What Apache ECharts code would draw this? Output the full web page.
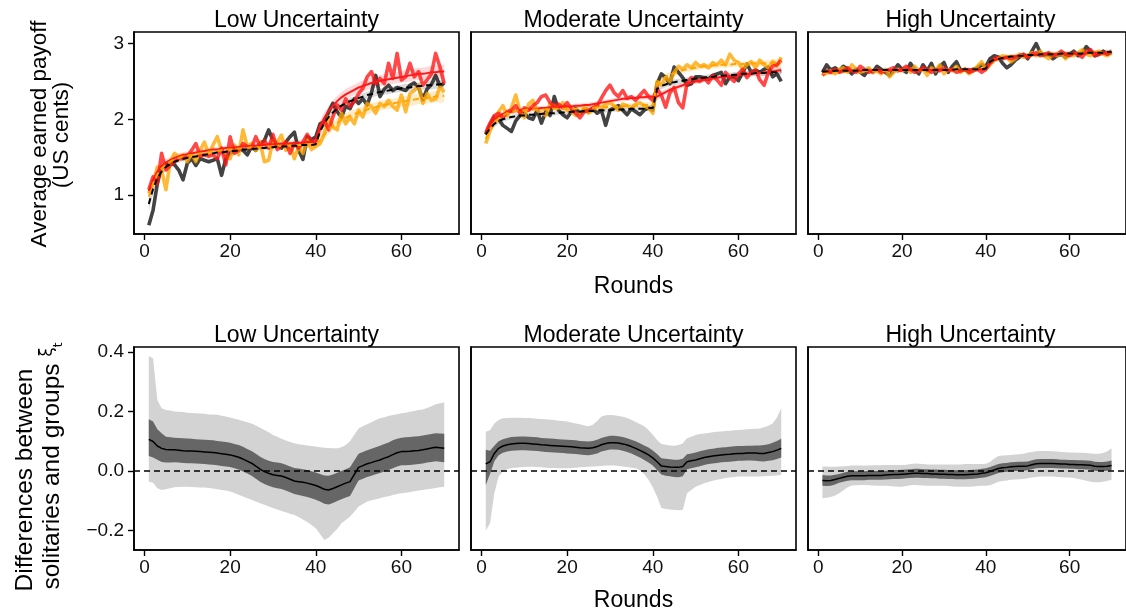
<!DOCTYPE html>
<html>
<head>
<meta charset="utf-8">
<script src="https://cdn.jsdelivr.net/npm/echarts@6/dist/echarts.min.js"></script>
<style>
  html, body { margin: 0; padding: 0; background: #fff; }
  #chart { width: 1126px; height: 616px; }
</style>
</head>
<body>
<div id="chart"></div>
<script>
// Rounds 1..70 of the game
const rounds = Array.from({ length: 70 }, (_, i) => i + 1);
const panelTitles = ['Low Uncertainty', 'Moderate Uncertainty', 'High Uncertainty'];
const roundTicks = [0, 20, 40, 60];
const payoffTicks = [1, 2, 3];
const diffTicks = [-0.2, 0, 0.2, 0.4];

// ---- Average earned payoff per round (US cents) ----
// Low uncertainty: raw averages
const lowBlack = [0.60,0.80,1.15,1.37,1.39,1.42,1.40,1.33,1.20,1.42,
  1.48,1.39,1.48,1.46,1.44,1.46,1.48,1.26,1.48,1.55,
  1.59,1.62,1.59,1.53,1.64,1.59,1.68,1.72,1.86,1.72,
  1.68,1.62,1.70,1.77,1.83,1.59,1.47,1.77,1.73,1.77,
  1.94,1.97,2.10,2.21,2.10,2.03,2.17,2.14,2.27,2.21,
  2.27,2.19,2.35,2.58,2.30,2.40,2.45,2.38,2.42,2.40,
  2.38,2.45,2.48,2.42,2.26,2.40,2.46,2.58,2.44,2.48];
const lowRed = [1.07,1.24,1.15,1.55,1.33,1.39,1.44,1.48,1.48,1.51,
  1.59,1.68,1.51,1.53,1.51,1.53,1.48,1.62,1.40,1.77,
  1.55,1.59,1.68,1.64,1.62,1.77,1.64,1.72,1.62,1.80,
  1.60,1.64,1.70,1.55,1.68,1.62,1.70,1.80,1.72,1.70,
  1.90,1.99,1.86,2.03,2.19,2.12,2.27,2.17,2.23,2.34,
  2.41,2.56,2.63,2.47,2.54,2.47,2.74,2.54,2.87,2.52,
  2.56,2.74,2.56,2.63,2.45,2.52,2.60,2.87,2.69,2.47];
const lowOrange = [1.02,1.15,1.37,1.33,1.07,1.44,1.55,1.51,1.53,1.44,
  1.55,1.44,1.59,1.70,1.53,1.66,1.77,1.59,1.51,1.48,
  1.66,1.53,1.86,1.64,1.68,1.59,1.70,1.44,1.46,1.72,
  1.70,1.79,1.59,1.68,1.48,1.64,1.55,1.73,1.60,1.64,
  1.68,1.81,2.03,1.90,1.86,2.08,1.94,2.03,1.94,2.12,
  2.03,2.21,2.17,2.08,2.21,2.17,2.25,2.17,2.12,2.32,
  2.10,2.34,2.38,2.45,2.21,2.34,2.25,2.27,2.43,2.36];
// Low uncertainty: fitted trends and their interval half-widths
const lowBlackFit = [0.88,1.08,1.22,1.31,1.37,1.41,1.44,1.46,1.48,1.49,
  1.50,1.51,1.52,1.53,1.54,1.55,1.56,1.56,1.57,1.58,
  1.58,1.59,1.60,1.60,1.61,1.61,1.62,1.62,1.63,1.63,
  1.64,1.64,1.64,1.65,1.65,1.65,1.66,1.66,1.66,1.67,
  1.84,1.95,2.03,2.09,2.14,2.18,2.21,2.24,2.26,2.28,
  2.30,2.32,2.33,2.35,2.36,2.37,2.38,2.39,2.40,2.41,
  2.42,2.42,2.43,2.44,2.44,2.45,2.45,2.46,2.46,2.47];
const lowRedFit = [1.05,1.20,1.31,1.38,1.43,1.46,1.49,1.51,1.53,1.54,
  1.55,1.56,1.57,1.58,1.59,1.60,1.60,1.61,1.62,1.62,
  1.63,1.63,1.64,1.64,1.65,1.65,1.66,1.66,1.67,1.67,
  1.67,1.68,1.68,1.68,1.69,1.69,1.69,1.70,1.70,1.70,
  1.90,2.02,2.11,2.18,2.24,2.29,2.33,2.36,2.39,2.42,
  2.44,2.46,2.48,2.49,2.51,2.52,2.53,2.54,2.55,2.56,
  2.57,2.58,2.59,2.60,2.60,2.61,2.62,2.62,2.63,2.63];
const lowOrangeFit = [0.98,1.15,1.27,1.35,1.40,1.44,1.47,1.49,1.51,1.52,
  1.53,1.54,1.55,1.56,1.57,1.58,1.58,1.59,1.60,1.60,
  1.61,1.61,1.62,1.62,1.63,1.63,1.63,1.64,1.64,1.64,
  1.65,1.65,1.65,1.65,1.66,1.66,1.66,1.66,1.67,1.67,
  1.72,1.80,1.86,1.91,1.95,1.99,2.02,2.05,2.07,2.09,
  2.11,2.13,2.15,2.16,2.18,2.19,2.20,2.21,2.22,2.23,
  2.24,2.25,2.26,2.27,2.28,2.28,2.29,2.30,2.30,2.31];
const lowHwBlack = [0.09,0.07,0.06,0.05,0.045,0.04,0.04,0.035,0.035,0.035,
  0.03,0.03,0.03,0.03,0.03,0.03,0.03,0.03,0.03,0.03,
  0.03,0.03,0.03,0.03,0.03,0.03,0.03,0.03,0.03,0.03,
  0.03,0.03,0.03,0.03,0.03,0.03,0.03,0.035,0.035,0.04,
  0.07,0.06,0.055,0.05,0.05,0.045,0.045,0.045,0.045,0.045,
  0.045,0.045,0.045,0.045,0.045,0.045,0.045,0.045,0.045,0.045,
  0.05,0.05,0.05,0.05,0.05,0.05,0.055,0.055,0.06,0.06];
const lowHwRed = [0.09,0.07,0.06,0.05,0.045,0.04,0.04,0.04,0.035,0.035,
  0.035,0.035,0.035,0.035,0.035,0.035,0.035,0.035,0.035,0.035,
  0.035,0.035,0.035,0.035,0.035,0.035,0.035,0.035,0.035,0.035,
  0.035,0.035,0.035,0.035,0.035,0.035,0.035,0.04,0.04,0.045,
  0.08,0.075,0.07,0.07,0.07,0.07,0.07,0.07,0.07,0.07,
  0.075,0.075,0.075,0.075,0.075,0.075,0.075,0.075,0.075,0.075,
  0.08,0.08,0.08,0.08,0.08,0.085,0.085,0.09,0.09,0.095];
const lowHwOrange = [0.09,0.07,0.06,0.05,0.045,0.04,0.04,0.04,0.035,0.035,
  0.035,0.035,0.035,0.035,0.035,0.035,0.035,0.035,0.035,0.035,
  0.035,0.035,0.035,0.035,0.035,0.035,0.035,0.035,0.035,0.035,
  0.035,0.035,0.035,0.035,0.035,0.035,0.035,0.04,0.04,0.045,
  0.07,0.065,0.06,0.06,0.06,0.06,0.06,0.06,0.06,0.06,
  0.065,0.065,0.065,0.065,0.065,0.065,0.065,0.065,0.065,0.065,
  0.07,0.07,0.07,0.07,0.07,0.07,0.075,0.075,0.08,0.08];

// Moderate uncertainty
const modBlack = [1.80,1.92,2.03,2.00,1.92,1.88,1.84,1.98,2.05,2.08,
  2.02,2.00,2.12,1.95,2.10,2.05,2.30,2.12,2.06,2.02,
  2.10,2.14,2.08,2.12,2.10,2.14,2.08,2.12,1.92,2.12,
  2.15,2.18,2.12,2.06,2.14,2.10,2.06,2.12,2.15,2.12,
  2.47,2.60,2.55,2.47,2.69,2.62,2.55,2.45,2.47,2.56,
  2.56,2.55,2.53,2.58,2.60,2.62,2.47,2.56,2.56,2.51,
  2.62,2.73,2.62,2.65,2.62,2.66,2.69,2.56,2.60,2.50];
const modRed = [1.82,1.95,2.05,2.08,2.02,2.10,2.12,2.18,2.08,2.15,
  2.12,2.18,2.22,2.30,2.32,2.22,2.18,2.20,2.15,2.22,
  2.14,2.08,2.02,2.10,2.12,2.15,2.18,2.28,2.38,2.45,
  2.35,2.30,2.38,2.28,2.30,2.25,2.32,2.38,2.30,2.25,
  2.40,2.32,2.16,2.35,2.42,2.22,2.15,2.48,2.55,2.52,
  2.50,2.55,2.48,2.58,2.52,2.45,2.62,2.55,2.50,2.60,
  2.66,2.55,2.62,2.65,2.52,2.45,2.62,2.70,2.72,2.78];
const modOrange = [1.68,1.85,1.98,2.10,2.18,2.05,2.15,2.32,2.10,2.02,
  2.20,2.25,2.12,2.08,2.05,2.20,2.18,2.15,2.22,2.12,
  2.10,2.05,2.08,2.15,2.08,2.12,2.18,2.15,2.20,2.22,
  2.18,2.12,2.20,2.18,2.15,2.20,2.22,2.18,2.15,2.08,
  2.50,2.45,2.55,2.50,2.62,2.70,2.66,2.72,2.68,2.75,
  2.70,2.72,2.68,2.75,2.72,2.78,2.72,2.86,2.78,2.75,
  2.66,2.72,2.76,2.68,2.78,2.72,2.68,2.76,2.70,2.82];
const modBlackFit = [1.80,1.88,1.94,1.98,2.00,2.02,2.03,2.04,2.05,2.05,
  2.06,2.06,2.07,2.07,2.08,2.08,2.08,2.09,2.09,2.09,
  2.10,2.10,2.10,2.11,2.11,2.11,2.12,2.12,2.12,2.12,
  2.13,2.13,2.13,2.13,2.14,2.14,2.14,2.14,2.15,2.15,
  2.40,2.44,2.46,2.48,2.49,2.50,2.51,2.52,2.53,2.54,
  2.54,2.55,2.56,2.56,2.57,2.57,2.58,2.58,2.59,2.59,
  2.60,2.60,2.60,2.61,2.61,2.61,2.62,2.62,2.62,2.63];
const modRedFit = [1.84,1.93,2.00,2.04,2.07,2.09,2.10,2.11,2.12,2.13,
  2.13,2.14,2.14,2.15,2.15,2.16,2.16,2.16,2.17,2.17,
  2.17,2.18,2.18,2.19,2.19,2.20,2.21,2.22,2.23,2.24,
  2.25,2.26,2.27,2.27,2.28,2.28,2.29,2.29,2.30,2.30,
  2.30,2.33,2.36,2.39,2.41,2.43,2.45,2.47,2.48,2.50,
  2.51,2.52,2.53,2.54,2.55,2.56,2.56,2.57,2.58,2.58,
  2.59,2.60,2.60,2.61,2.61,2.62,2.62,2.63,2.64,2.65];
const modOrangeFit = [1.74,1.86,1.95,2.01,2.05,2.08,2.10,2.11,2.12,2.12,
  2.13,2.13,2.13,2.13,2.13,2.14,2.14,2.14,2.14,2.14,
  2.14,2.14,2.15,2.15,2.15,2.15,2.16,2.16,2.16,2.17,
  2.17,2.17,2.17,2.18,2.18,2.18,2.18,2.19,2.19,2.19,
  2.47,2.52,2.56,2.59,2.61,2.63,2.65,2.66,2.67,2.68,
  2.69,2.70,2.70,2.71,2.71,2.72,2.72,2.72,2.73,2.73,
  2.73,2.73,2.74,2.74,2.74,2.74,2.74,2.75,2.75,2.75];
const modHw = [0.06,0.05,0.045,0.04,0.035,0.035,0.03,0.03,0.03,0.03,
  0.03,0.03,0.03,0.03,0.03,0.03,0.03,0.03,0.03,0.03,
  0.03,0.03,0.03,0.03,0.03,0.03,0.03,0.03,0.03,0.03,
  0.03,0.03,0.03,0.03,0.03,0.03,0.03,0.035,0.035,0.04,
  0.05,0.045,0.04,0.04,0.04,0.035,0.035,0.035,0.035,0.035,
  0.035,0.035,0.035,0.035,0.035,0.035,0.035,0.035,0.035,0.035,
  0.035,0.035,0.035,0.035,0.04,0.04,0.04,0.045,0.045,0.05];

// High uncertainty
const highBlack = [2.62,2.72,2.65,2.68,2.64,2.70,2.66,2.60,2.66,2.62,
  2.58,2.66,2.62,2.70,2.66,2.62,2.58,2.64,2.72,2.66,
  2.62,2.74,2.66,2.60,2.72,2.64,2.74,2.60,2.70,2.75,
  2.62,2.70,2.76,2.64,2.66,2.62,2.66,2.68,2.72,2.70,
  2.80,2.84,2.82,2.74,2.68,2.72,2.78,2.82,2.85,2.80,
  2.90,3.00,2.88,2.84,2.86,2.80,2.84,2.86,2.82,2.86,
  2.90,2.84,2.88,2.96,2.90,2.84,2.86,2.90,2.86,2.88];
const highRed = [2.58,2.64,2.62,2.66,2.62,2.64,2.68,2.64,2.62,2.70,
  2.66,2.62,2.64,2.66,2.62,2.64,2.66,2.68,2.64,2.66,
  2.70,2.66,2.62,2.64,2.68,2.66,2.62,2.66,2.64,2.68,
  2.64,2.66,2.62,2.64,2.66,2.62,2.64,2.66,2.62,2.66,
  2.74,2.80,2.82,2.80,2.82,2.80,2.82,2.84,2.86,2.82,
  2.86,2.88,2.84,2.86,2.88,2.84,2.86,2.90,2.86,2.84,
  2.88,2.86,2.82,2.90,2.92,2.84,2.86,2.88,2.86,2.90];
const highOrange = [2.60,2.62,2.64,2.60,2.66,2.68,2.62,2.72,2.66,2.62,
  2.64,2.68,2.62,2.64,2.60,2.66,2.56,2.62,2.66,2.64,
  2.68,2.62,2.70,2.64,2.66,2.58,2.68,2.64,2.72,2.60,
  2.66,2.64,2.70,2.62,2.66,2.60,2.64,2.70,2.76,2.66,
  2.72,2.78,2.80,2.84,2.82,2.76,2.80,2.86,2.82,2.84,
  2.88,2.84,2.90,2.84,2.80,2.86,2.84,2.88,2.80,2.86,
  2.84,2.88,2.92,2.86,2.84,2.88,2.90,2.86,2.84,2.88];
const highBlackFit = [2.63,2.63,2.63,2.64,2.64,2.64,2.64,2.64,2.64,2.65,
  2.65,2.65,2.65,2.65,2.65,2.65,2.65,2.65,2.65,2.65,
  2.65,2.65,2.65,2.65,2.65,2.65,2.65,2.65,2.65,2.65,
  2.65,2.65,2.66,2.66,2.66,2.66,2.66,2.66,2.66,2.67,
  2.76,2.79,2.80,2.81,2.82,2.83,2.83,2.84,2.84,2.85,
  2.85,2.85,2.86,2.86,2.86,2.86,2.86,2.87,2.87,2.87,
  2.87,2.87,2.87,2.88,2.88,2.88,2.88,2.88,2.89,2.89];
const highRedFit = [2.61,2.62,2.62,2.63,2.63,2.63,2.64,2.64,2.64,2.64,
  2.64,2.64,2.64,2.64,2.64,2.64,2.64,2.64,2.64,2.64,
  2.65,2.65,2.65,2.65,2.65,2.65,2.65,2.65,2.65,2.65,
  2.65,2.65,2.65,2.65,2.65,2.66,2.66,2.66,2.66,2.66,
  2.75,2.78,2.80,2.81,2.82,2.83,2.83,2.84,2.84,2.84,
  2.85,2.85,2.85,2.86,2.86,2.86,2.86,2.86,2.87,2.87,
  2.87,2.87,2.87,2.87,2.88,2.88,2.88,2.88,2.88,2.89];
const highOrangeFit = [2.60,2.61,2.62,2.62,2.63,2.63,2.63,2.64,2.64,2.64,
  2.64,2.64,2.64,2.64,2.64,2.64,2.64,2.64,2.64,2.64,
  2.65,2.65,2.65,2.65,2.65,2.65,2.65,2.65,2.65,2.65,
  2.65,2.65,2.65,2.66,2.66,2.66,2.66,2.67,2.67,2.67,
  2.76,2.79,2.81,2.82,2.83,2.83,2.84,2.84,2.85,2.85,
  2.85,2.86,2.86,2.86,2.86,2.87,2.87,2.87,2.87,2.87,
  2.87,2.88,2.88,2.88,2.88,2.88,2.88,2.89,2.89,2.89];
const highHw = [0.04,0.035,0.03,0.03,0.025,0.025,0.02,0.02,0.02,0.02,
  0.02,0.02,0.02,0.02,0.02,0.02,0.02,0.02,0.02,0.02,
  0.02,0.02,0.02,0.02,0.02,0.02,0.02,0.02,0.02,0.02,
  0.02,0.02,0.02,0.02,0.02,0.02,0.02,0.02,0.025,0.025,
  0.03,0.03,0.025,0.025,0.025,0.025,0.025,0.025,0.025,0.025,
  0.025,0.025,0.025,0.025,0.025,0.025,0.025,0.025,0.025,0.025,
  0.025,0.025,0.025,0.025,0.025,0.025,0.025,0.03,0.03,0.035];

// ---- Differences between solitaries and groups (xi_t) ----
const lowDiff = [0.106,0.099,0.084,0.076,0.072,0.071,0.071,0.070,0.068,0.067,
  0.067,0.066,0.065,0.064,0.063,0.062,0.060,0.058,0.056,0.054,
  0.050,0.046,0.040,0.033,0.026,0.016,0.006,-0.002,-0.008,-0.013,
  -0.015,-0.017,-0.022,-0.028,-0.034,-0.036,-0.038,-0.041,-0.045,-0.049,
  -0.055,-0.062,-0.064,-0.059,-0.053,-0.047,-0.041,-0.036,-0.012,0.012,
  0.018,0.024,0.028,0.033,0.037,0.043,0.048,0.055,0.061,0.065,
  0.065,0.066,0.068,0.069,0.071,0.074,0.077,0.080,0.078,0.076];
const lowInnerUp = [0.174,0.166,0.140,0.127,0.115,0.113,0.112,0.111,0.110,0.109,
  0.108,0.107,0.106,0.105,0.104,0.103,0.101,0.099,0.097,0.095,
  0.091,0.087,0.081,0.074,0.067,0.058,0.048,0.040,0.034,0.030,
  0.028,0.026,0.021,0.015,0.010,0.008,0.006,0.003,-0.001,-0.005,
  -0.010,-0.015,-0.016,-0.012,-0.006,0.000,0.006,0.012,0.035,0.058,
  0.064,0.070,0.075,0.080,0.085,0.091,0.096,0.103,0.108,0.112,
  0.113,0.114,0.116,0.117,0.119,0.122,0.124,0.127,0.126,0.125];
const lowInnerLo = [0.050,0.045,0.038,0.030,0.028,0.028,0.029,0.028,0.027,0.026,
  0.026,0.025,0.024,0.023,0.022,0.021,0.019,0.017,0.015,0.013,
  0.009,0.005,-0.002,-0.009,-0.016,-0.026,-0.036,-0.044,-0.050,-0.055,
  -0.058,-0.061,-0.066,-0.072,-0.078,-0.081,-0.084,-0.088,-0.092,-0.097,
  -0.103,-0.110,-0.113,-0.108,-0.101,-0.095,-0.089,-0.084,-0.058,-0.032,
  -0.026,-0.020,-0.016,-0.011,-0.007,-0.002,0.003,0.009,0.015,0.019,
  0.019,0.020,0.022,0.023,0.025,0.028,0.030,0.033,0.031,0.029];
const lowOuterUp = [0.387,0.379,0.239,0.211,0.205,0.203,0.200,0.199,0.198,0.196,
  0.195,0.194,0.193,0.192,0.190,0.190,0.189,0.186,0.183,0.180,
  0.176,0.172,0.168,0.164,0.160,0.153,0.145,0.138,0.130,0.121,
  0.115,0.108,0.102,0.097,0.093,0.090,0.088,0.086,0.084,0.082,
  0.080,0.078,0.077,0.076,0.076,0.080,0.087,0.100,0.122,0.143,
  0.150,0.157,0.164,0.171,0.177,0.181,0.185,0.188,0.191,0.194,
  0.196,0.199,0.202,0.205,0.207,0.212,0.218,0.224,0.228,0.230];
const lowOuterLo = [-0.036,-0.040,-0.058,-0.064,-0.062,-0.058,-0.055,-0.054,-0.053,-0.053,
  -0.054,-0.055,-0.056,-0.056,-0.057,-0.059,-0.062,-0.064,-0.066,-0.069,
  -0.074,-0.080,-0.086,-0.092,-0.097,-0.103,-0.109,-0.114,-0.120,-0.125,
  -0.130,-0.135,-0.139,-0.144,-0.148,-0.155,-0.163,-0.172,-0.182,-0.193,
  -0.212,-0.232,-0.225,-0.210,-0.195,-0.176,-0.165,-0.153,-0.137,-0.120,
  -0.111,-0.103,-0.099,-0.095,-0.092,-0.088,-0.085,-0.081,-0.078,-0.075,
  -0.073,-0.071,-0.068,-0.066,-0.064,-0.062,-0.060,-0.057,-0.055,-0.053];

const modDiff = [0.024,0.031,0.059,0.076,0.084,0.088,0.091,0.092,0.093,0.093,
  0.092,0.091,0.090,0.088,0.087,0.086,0.085,0.084,0.083,0.082,
  0.081,0.080,0.078,0.077,0.076,0.078,0.082,0.088,0.092,0.095,
  0.095,0.094,0.091,0.087,0.082,0.076,0.069,0.062,0.054,0.044,
  0.031,0.017,0.015,0.013,0.012,0.012,0.015,0.031,0.034,0.037,
  0.041,0.045,0.048,0.050,0.052,0.054,0.055,0.056,0.058,0.059,
  0.059,0.060,0.060,0.060,0.059,0.059,0.062,0.065,0.070,0.076];
const modInnerUp = [0.071,0.068,0.085,0.100,0.107,0.111,0.114,0.115,0.116,0.116,
  0.115,0.114,0.113,0.111,0.110,0.109,0.108,0.107,0.106,0.105,
  0.104,0.103,0.101,0.100,0.099,0.101,0.105,0.111,0.115,0.118,
  0.118,0.117,0.114,0.110,0.105,0.100,0.093,0.086,0.079,0.069,
  0.057,0.043,0.041,0.039,0.038,0.038,0.041,0.056,0.059,0.062,
  0.066,0.070,0.073,0.075,0.077,0.079,0.080,0.081,0.083,0.084,
  0.084,0.085,0.085,0.086,0.086,0.087,0.090,0.095,0.101,0.108];
const modInnerLo = [-0.047,-0.010,0.033,0.053,0.061,0.065,0.068,0.069,0.070,0.070,
  0.069,0.068,0.067,0.065,0.064,0.063,0.062,0.061,0.060,0.059,
  0.058,0.057,0.055,0.054,0.053,0.055,0.059,0.065,0.069,0.072,
  0.072,0.071,0.068,0.064,0.059,0.052,0.045,0.037,0.028,0.018,
  0.003,-0.012,-0.016,-0.018,-0.020,-0.021,-0.018,0.006,0.009,0.012,
  0.016,0.020,0.023,0.025,0.027,0.029,0.030,0.031,0.033,0.034,
  0.034,0.035,0.035,0.034,0.033,0.032,0.034,0.036,0.040,0.045];
const modOuterUp = [0.132,0.137,0.160,0.171,0.177,0.178,0.179,0.179,0.179,0.178,
  0.178,0.177,0.176,0.175,0.174,0.172,0.171,0.169,0.168,0.166,
  0.163,0.160,0.157,0.153,0.150,0.155,0.168,0.183,0.187,0.188,
  0.187,0.185,0.182,0.178,0.172,0.165,0.158,0.150,0.138,0.122,
  0.104,0.091,0.088,0.086,0.085,0.087,0.092,0.110,0.115,0.121,
  0.124,0.126,0.128,0.130,0.132,0.133,0.134,0.135,0.137,0.138,
  0.139,0.140,0.141,0.142,0.143,0.147,0.152,0.160,0.180,0.211];
const modOuterLo = [-0.200,-0.176,-0.075,-0.019,-0.002,0.006,0.010,0.011,0.012,0.013,
  0.014,0.014,0.013,0.012,0.011,0.010,0.010,0.009,0.009,0.009,
  0.010,0.011,0.012,0.013,0.014,0.015,0.016,0.017,0.018,0.018,
  0.018,0.017,0.015,0.013,0.011,0.009,0.002,-0.010,-0.030,-0.055,
  -0.086,-0.125,-0.128,-0.130,-0.131,-0.132,-0.131,-0.075,-0.064,-0.053,
  -0.047,-0.041,-0.037,-0.033,-0.030,-0.027,-0.024,-0.022,-0.020,-0.019,
  -0.019,-0.019,-0.019,-0.019,-0.019,-0.018,-0.017,-0.016,-0.015,-0.013];

const highDiff = [-0.032,-0.033,-0.032,-0.029,-0.025,-0.021,-0.018,-0.016,-0.016,-0.016,
  -0.016,-0.015,-0.015,-0.015,-0.015,-0.014,-0.013,-0.012,-0.012,-0.011,
  -0.010,-0.009,-0.008,-0.008,-0.009,-0.009,-0.010,-0.010,-0.011,-0.011,
  -0.012,-0.012,-0.013,-0.013,-0.013,-0.012,-0.011,-0.010,-0.008,-0.006,
  -0.002,0.003,0.008,0.011,0.012,0.014,0.015,0.016,0.016,0.017,
  0.021,0.024,0.025,0.025,0.025,0.025,0.024,0.023,0.023,0.022,
  0.022,0.021,0.021,0.020,0.019,0.016,0.015,0.015,0.016,0.018];
const highInnerUp = [-0.014,-0.015,-0.015,-0.013,-0.010,-0.006,-0.003,-0.001,-0.001,-0.001,
  -0.001,0.000,0.000,0.000,0.000,0.001,0.002,0.003,0.003,0.004,
  0.005,0.006,0.007,0.007,0.006,0.006,0.005,0.005,0.004,0.004,
  0.003,0.003,0.002,0.002,0.002,0.003,0.004,0.005,0.007,0.009,
  0.013,0.018,0.023,0.026,0.027,0.029,0.030,0.031,0.031,0.032,
  0.036,0.039,0.040,0.040,0.040,0.040,0.039,0.038,0.038,0.037,
  0.037,0.036,0.036,0.035,0.034,0.031,0.030,0.030,0.032,0.035];
const highInnerLo = [-0.050,-0.051,-0.050,-0.046,-0.040,-0.036,-0.033,-0.031,-0.031,-0.031,
  -0.031,-0.030,-0.030,-0.030,-0.030,-0.029,-0.028,-0.027,-0.027,-0.026,
  -0.025,-0.024,-0.023,-0.023,-0.024,-0.024,-0.025,-0.025,-0.026,-0.026,
  -0.027,-0.027,-0.028,-0.028,-0.028,-0.027,-0.026,-0.025,-0.023,-0.021,
  -0.017,-0.012,-0.007,-0.004,-0.003,-0.001,0.000,0.001,0.001,0.002,
  0.006,0.009,0.010,0.010,0.010,0.010,0.009,0.008,0.008,0.007,
  0.007,0.006,0.006,0.005,0.004,0.001,0.000,0.000,0.001,0.003];
const highOuterUp = [0.015,0.015,0.014,0.014,0.015,0.016,0.017,0.018,0.018,0.018,
  0.018,0.018,0.019,0.019,0.019,0.020,0.020,0.020,0.020,0.020,
  0.021,0.023,0.025,0.024,0.023,0.022,0.022,0.022,0.022,0.022,
  0.022,0.022,0.022,0.022,0.023,0.023,0.023,0.023,0.023,0.024,
  0.030,0.042,0.050,0.052,0.053,0.054,0.055,0.056,0.058,0.062,
  0.064,0.066,0.067,0.067,0.067,0.066,0.065,0.064,0.063,0.062,
  0.062,0.061,0.061,0.060,0.059,0.058,0.058,0.060,0.066,0.076];
const highOuterLo = [-0.092,-0.090,-0.088,-0.083,-0.075,-0.065,-0.055,-0.049,-0.048,-0.047,
  -0.047,-0.048,-0.049,-0.050,-0.050,-0.050,-0.051,-0.052,-0.053,-0.053,
  -0.051,-0.048,-0.047,-0.048,-0.049,-0.050,-0.050,-0.050,-0.050,-0.050,
  -0.051,-0.052,-0.053,-0.053,-0.053,-0.053,-0.052,-0.051,-0.050,-0.050,
  -0.048,-0.042,-0.036,-0.034,-0.032,-0.030,-0.029,-0.028,-0.027,-0.025,
  -0.022,-0.020,-0.019,-0.019,-0.019,-0.019,-0.020,-0.021,-0.022,-0.022,
  -0.024,-0.027,-0.030,-0.033,-0.036,-0.038,-0.038,-0.036,-0.033,-0.030];

// ---- Layout and styling ----
const FONT = '"Liberation Sans", Arial, Helvetica, sans-serif';
const lefts = [134, 471, 808];
const PW = 325;
const TOP1 = 32, H1 = 202, TOP2 = 347, H2 = 203;
const X_MIN = -2.45, X_MAX = 73.45;
const C_BLACK = 'rgba(34,34,34,0.85)';
const C_RED = 'rgba(255,20,20,0.78)';
const C_ORANGE = 'rgba(255,165,0,0.78)';
const TICK_FONT = 19;
const LABEL_FONT = 23;

const chart = echarts.init(document.getElementById('chart'), null, { renderer: 'canvas' });

const grids = [], xAxes = [], yAxes = [], series = [];

function fmtDiff(v) {
  if (Math.abs(v) < 1e-9) return '0.0';
  return (v < 0 ? '\u2212' : '') + Math.abs(v).toFixed(1);
}

for (let row = 0; row < 2; row++) {
  for (let col = 0; col < 3; col++) {
    const idx = row * 3 + col;
    grids.push({
      left: lefts[col], top: row === 0 ? TOP1 : TOP2, width: PW, height: row === 0 ? H1 : H2,
      show: true, borderColor: '#000', borderWidth: 1.6, backgroundColor: 'transparent'
    });
    xAxes.push({
      type: 'value', gridIndex: idx, min: X_MIN, max: X_MAX,
      axisLine: { show: true, onZero: false, lineStyle: { color: '#000', width: 1.6 } },
      axisTick: { show: true, inside: false, length: 6, lineStyle: { color: '#000', width: 1.4 }, customValues: roundTicks },
      axisLabel: { show: true, color: '#111', fontSize: TICK_FONT, fontFamily: FONT, margin: 8, customValues: roundTicks },
      splitLine: { show: false }
    });
    const yTicks = row === 0 ? payoffTicks : diffTicks;
    yAxes.push({
      type: 'value', gridIndex: idx,
      min: row === 0 ? 0.485 : -0.266, max: row === 0 ? 3.153 : 0.417,
      axisLine: { show: true, onZero: false, lineStyle: { color: '#000', width: 1.6 } },
      axisTick: { show: col === 0, inside: false, length: 6, lineStyle: { color: '#000', width: 1.4 }, customValues: yTicks },
      axisLabel: { show: col === 0, color: '#111', fontSize: TICK_FONT, fontFamily: FONT, margin: 10, customValues: yTicks,
                   formatter: row === 0 ? (v) => String(v) : fmtDiff },
      splitLine: { show: false }
    });
  }
}

function band(idx, lower, upper, color, z) {
  return {
    type: 'custom', xAxisIndex: idx, yAxisIndex: idx, silent: true, z: z,
    data: [[rounds[0], lower[0]]],
    renderItem: function (params, api) {
      const pts = [];
      for (let i = 0; i < rounds.length; i++) pts.push(api.coord([rounds[i], upper[i]]));
      for (let i = rounds.length - 1; i >= 0; i--) pts.push(api.coord([rounds[i], lower[i]]));
      return { type: 'polygon', shape: { points: pts }, style: { fill: color } };
    }
  };
}
function ribbon(idx, fit, hw, color, z) {
  return band(idx, fit.map((v, i) => v - hw[i]), fit.map((v, i) => v + hw[i]), color, z);
}
function line(idx, ys, color, width, type, z) {
  return {
    type: 'line', xAxisIndex: idx, yAxisIndex: idx, silent: true, z: z,
    data: rounds.map((r, i) => [r, ys[i]]),
    showSymbol: false, symbol: 'none',
    lineStyle: { color: color, width: width, type: type || 'solid', join: 'round', cap: 'butt' }
  };
}

// Top row: raw averages, fitted trends and ribbons
const payoffPanels = [
  { black: lowBlack, red: lowRed, orange: lowOrange, bf: lowBlackFit, rf: lowRedFit, of: lowOrangeFit,
    hb: lowHwBlack, hr: lowHwRed, ho: lowHwOrange },
  { black: modBlack, red: modRed, orange: modOrange, bf: modBlackFit, rf: modRedFit, of: modOrangeFit,
    hb: modHw, hr: modHw, ho: modHw },
  { black: highBlack, red: highRed, orange: highOrange, bf: highBlackFit, rf: highRedFit, of: highOrangeFit,
    hb: highHw, hr: highHw, ho: highHw }
];
payoffPanels.forEach((p, idx) => {
  series.push(ribbon(idx, p.bf, p.hb, 'rgba(0,0,0,0.14)', 1));
  series.push(ribbon(idx, p.of, p.ho, 'rgba(255,165,0,0.22)', 1));
  series.push(ribbon(idx, p.rf, p.hr, 'rgba(255,0,0,0.15)', 1));
  series.push(line(idx, p.black, C_BLACK, 3.6, 'solid', 2));
  series.push(line(idx, p.orange, C_ORANGE, 3.6, 'solid', 3));
  series.push(line(idx, p.red, C_RED, 3.6, 'solid', 4));
  series.push(line(idx, p.rf, '#ff1a1a', 2, 'solid', 5));
  series.push(line(idx, p.of, '#ffa500', 2, [6, 4], 6));
  series.push(line(idx, p.bf, '#000', 2, [6, 4], 7));
});

// Bottom row: difference with inner and outer credible bands
const diffPanels = [
  { mean: lowDiff, iu: lowInnerUp, il: lowInnerLo, ou: lowOuterUp, ol: lowOuterLo },
  { mean: modDiff, iu: modInnerUp, il: modInnerLo, ou: modOuterUp, ol: modOuterLo },
  { mean: highDiff, iu: highInnerUp, il: highInnerLo, ou: highOuterUp, ol: highOuterLo }
];
diffPanels.forEach((p, c) => {
  const idx = 3 + c;
  series.push(band(idx, p.ol, p.ou, '#d3d3d3', 1));
  series.push(band(idx, p.il, p.iu, '#666666', 2));
  const m = line(idx, p.mean, '#000', 1.5, 'solid', 3);
  m.markLine = {
    silent: true, symbol: 'none', label: { show: false }, animation: false,
    lineStyle: { color: '#000', type: [6, 4], width: 1.5 },
    data: [{ yAxis: 0 }]
  };
  series.push(m);
});

// Text: panel titles, axis names
const graphic = [];
const textStyle = (t, size) => ({ text: t, fontSize: size, fontFamily: FONT, fill: '#000', align: 'center', verticalAlign: 'middle' });
panelTitles.forEach((t, c) => {
  const cx = lefts[c] + PW / 2;
  graphic.push({ type: 'text', x: cx, y: 20.5, style: textStyle(t, LABEL_FONT) });
  graphic.push({ type: 'text', x: cx, y: 335.5, style: textStyle(t, LABEL_FONT) });
});
graphic.push({ type: 'text', x: lefts[1] + PW / 2, y: 287, style: textStyle('Rounds', LABEL_FONT) });
graphic.push({ type: 'text', x: lefts[1] + PW / 2, y: 601, style: textStyle('Rounds', LABEL_FONT) });
graphic.push({ type: 'text', x: 40, y: 134, rotation: Math.PI / 2, style: textStyle('Average earned payoff', 22.5) });
graphic.push({ type: 'text', x: 62, y: 135, rotation: Math.PI / 2, style: textStyle('(US cents)', 22.5) });
graphic.push({ type: 'text', x: 25, y: 480, rotation: Math.PI / 2, style: textStyle('Differences between', 24.5) });
graphic.push({ type: 'text', x: 52, y: 466, rotation: Math.PI / 2, style: {
  text: 'solitaries and groups {xi|\u03be}{sub|t}', fontSize: 24.5, fontFamily: FONT, fill: '#000',
  align: 'center', verticalAlign: 'middle',
  rich: {
    xi: { fontSize: 17, fontFamily: '"DejaVu Sans", sans-serif', verticalAlign: 'top' },
    sub: { fontSize: 12, fontFamily: '"DejaVu Sans", sans-serif', verticalAlign: 'bottom' }
  }
} });

chart.setOption({
  animation: false,
  backgroundColor: '#fff',
  grid: grids,
  xAxis: xAxes,
  yAxis: yAxes,
  series: series,
  graphic: graphic
});
</script>
</body>
</html>
